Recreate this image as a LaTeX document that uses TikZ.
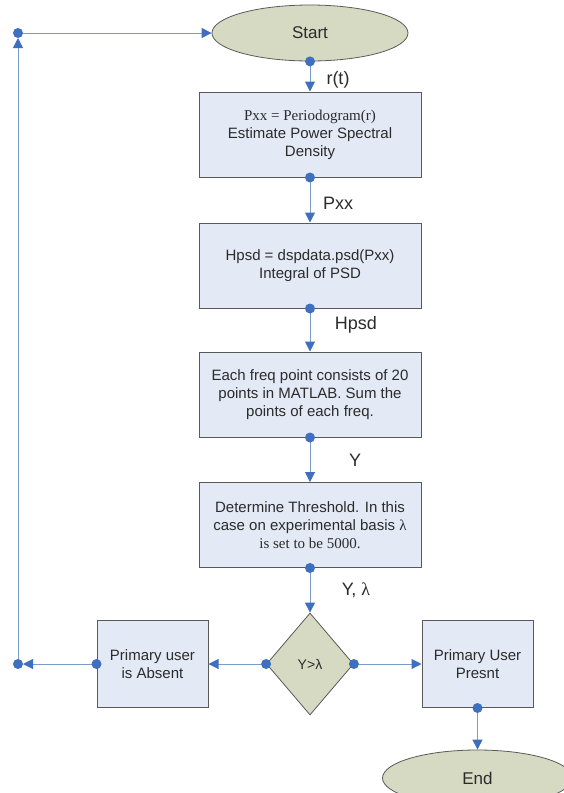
\documentclass[tikz,border=0pt]{standalone}
\usepackage{fontspec}
\setmainfont{Liberation Sans}
\newfontfamily\serifx{Liberation Serif}
\usetikzlibrary{shapes.geometric,arrows.meta}
\definecolor{boxfill}{HTML}{E3E9F5}
\definecolor{ovalfill}{HTML}{D6DAC2}
\definecolor{edgegray}{HTML}{5A5A5A}
\definecolor{linec}{HTML}{7C9CC8}
\definecolor{tipc}{HTML}{3F6FBF}
\definecolor{txt}{HTML}{2B2B2B}
\tikzset{
  procbox/.style={draw=edgegray, line width=1pt, fill=boxfill, rectangle, minimum width=222pt, minimum height=85pt, inner sep=0pt, align=center, text=txt, font=\fontsize{15}{18}\selectfont},
  smallbox/.style={procbox, minimum width=111pt, minimum height=87pt},
  oval/.style={draw=edgegray, line width=0.8pt, fill=ovalfill, ellipse, inner sep=0pt, text=txt, font=\fontsize{17}{20}\selectfont},
  decision/.style={draw=edgegray, line width=0.8pt, fill=ovalfill, diamond, inner sep=0pt, minimum width=87pt, minimum height=102pt, text=txt, font=\fontsize{14}{16}\selectfont},
  conn/.style={draw=linec, line width=1pt, -{Triangle[length=10pt,width=10pt,color=tipc,fill=tipc]}},
  lbl/.style={text=txt, font=\fontsize{18}{20}\selectfont, inner sep=0pt},
  dotc/.style={fill=tipc}
}
\begin{document}
\begin{tikzpicture}[x=1pt,y=-1pt]
\useasboundingbox (0,0) rectangle (564,793);
\node[oval, minimum width=196pt, minimum height=56pt] (start) at (310,33) {Start};
\node[procbox] (b1) at (310,134.5) {{\serifx Pxx = Periodogram(r)}\\Estimate Power Spectral\\Density};
\node[procbox] (b2) at (310,265.5) {Hpsd = dspdata.psd(Pxx)\\Integral of PSD};
\node[procbox] (b3) at (310,394.5) {Each freq point consists of 20\\points in MATLAB. Sum the\\points of each freq.};
\node[procbox] (b4) at (310,525) {Determine Threshold. In this\\case on experimental basis {\serifx λ}\\{\serifx is set to be 5000.}};
\node[decision] (dec) at (310,664) {Y>λ};
\node[smallbox] (absent) at (152.5,664) {Primary user\\is Absent};
\node[smallbox] (present) at (477.5,664) {Primary User\\Presnt};
\node[oval, minimum width=190pt, minimum height=56pt] (end) at (477.5,778) {End};
\coordinate (loopB) at (18,664);
\coordinate (loopT) at (18,33);

\draw[conn] (start.south) -- (b1.north);
\draw[conn] (b1.south) -- (b2.north);
\draw[conn] (b2.south) -- (b3.north);
\draw[conn] (b3.south) -- (b4.north);
\draw[conn] (b4.south) -- (dec.north);
\draw[conn] (dec.west) -- (absent.east);
\draw[conn] (dec.east) -- (present.west);
\draw[conn] (present.south) -- (end.north);
\draw[conn, shorten >=5pt] (absent.west) -- (loopB);
\draw[conn, shorten >=5pt] (loopB) -- (loopT);
\draw[conn] (loopT) -- (start.west);

\foreach \p in {start.south, b1.south, b2.south, b3.south, b4.south, dec.west, dec.east, absent.west, present.south, loopB, loopT}
  \fill[dotc] (\p) circle (5pt);

\node[lbl] (l1) at (338,80) {r(t)};
\node[lbl] (l2) at (338,203) {Pxx};
\node[lbl] (l3) at (356,325) {Hpsd};
\node[lbl] (l4) at (355,460) {Y};
\node[lbl] (l5) at (356,590) {Y, {\serifx λ}};
\end{tikzpicture}
\end{document}
